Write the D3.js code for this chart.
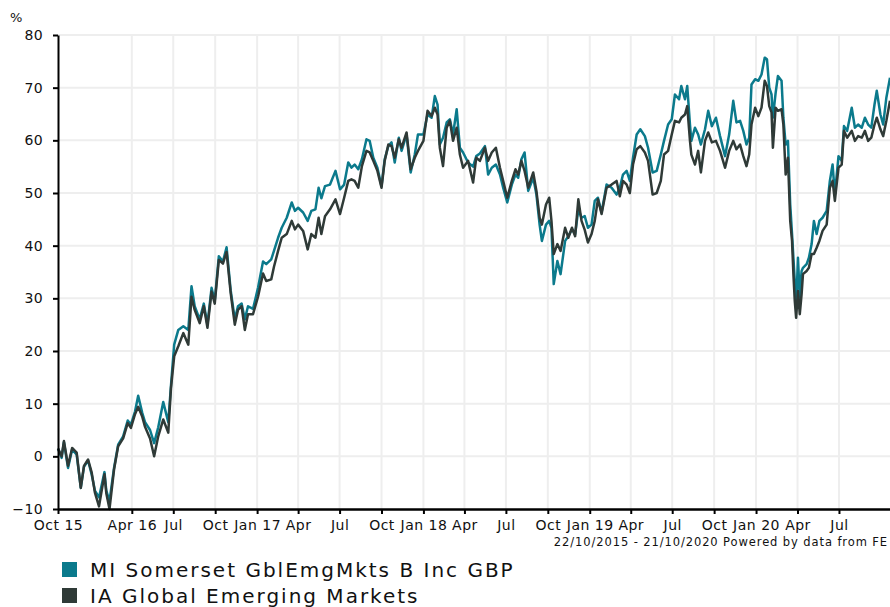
<!DOCTYPE html>
<html>
<head>
<meta charset="utf-8">
<script src="https://cdn.jsdelivr.net/npm/d3@7"></script>
<style>
  body { margin: 0; background: #fff; }
  svg { display: block; font-family: "DejaVu Sans", Verdana, sans-serif; }
</style>
</head>
<body>
<div id="chart"></div>
<script>
// 数据：日期与两条累计收益率（%）
const dates = [
  "2015-10-22","2015-10-30","2015-11-04","2015-11-13","2015-11-22","2015-12-02","2015-12-11","2015-12-18","2015-12-27",
  "2016-01-04","2016-01-11","2016-01-20","2016-02-01","2016-02-05","2016-02-12","2016-02-22","2016-03-02","2016-03-13",
  "2016-03-23","2016-03-30","2016-04-08","2016-04-15","2016-04-24","2016-04-30","2016-05-11","2016-05-20","2016-05-29",
  "2016-06-09","2016-06-20","2016-06-26","2016-07-03","2016-07-12","2016-07-23","2016-08-03","2016-08-10","2016-08-17",
  "2016-08-28","2016-09-06","2016-09-14","2016-09-23","2016-09-30","2016-10-09","2016-10-18","2016-10-26","2016-11-04",
  "2016-11-13","2016-11-20","2016-11-28","2016-12-05","2016-12-12","2016-12-23","2017-01-03","2017-01-14","2017-01-21",
  "2017-02-01","2017-02-07","2017-02-16","2017-02-24","2017-03-07","2017-03-18","2017-03-25","2017-04-01","2017-04-12",
  "2017-04-22","2017-04-30","2017-05-09","2017-05-16","2017-05-22","2017-05-30","2017-06-10","2017-06-22","2017-07-02",
  "2017-07-11","2017-07-20","2017-07-27","2017-08-03","2017-08-11","2017-08-19","2017-08-29","2017-09-05","2017-09-13",
  "2017-09-22","2017-10-01","2017-10-08","2017-10-16","2017-10-23","2017-10-30","2017-11-08","2017-11-14","2017-11-25",
  "2017-12-04","2017-12-13","2017-12-20","2018-01-01","2018-01-10","2018-01-19","2018-01-26","2018-02-01","2018-02-06",
  "2018-02-13","2018-02-21","2018-02-28","2018-03-07","2018-03-15","2018-03-22","2018-03-29","2018-04-09","2018-04-20",
  "2018-04-27","2018-05-05","2018-05-16","2018-05-23","2018-05-31","2018-06-09","2018-06-18","2018-06-25","2018-07-04",
  "2018-07-14","2018-07-22","2018-07-28","2018-08-04","2018-08-11","2018-08-19","2018-08-30","2018-09-06","2018-09-13",
  "2018-09-18","2018-09-27","2018-10-04","2018-10-09","2018-10-14","2018-10-22","2018-10-29","2018-11-08","2018-11-15",
  "2018-11-23","2018-11-30","2018-12-07","2018-12-14","2018-12-21","2018-12-28","2019-01-05","2019-01-12","2019-01-19",
  "2019-01-27","2019-02-07","2019-02-18","2019-03-01","2019-03-08","2019-03-15","2019-03-23","2019-03-30","2019-04-06",
  "2019-04-14","2019-04-22","2019-05-02","2019-05-09","2019-05-19","2019-05-28","2019-06-06","2019-06-13","2019-06-22",
  "2019-06-30","2019-07-07","2019-07-16","2019-07-21","2019-07-29","2019-08-03","2019-08-09","2019-08-12","2019-08-20",
  "2019-08-27","2019-09-02","2019-09-11","2019-09-18","2019-09-26","2019-10-05","2019-10-14","2019-10-25","2019-11-03",
  "2019-11-12","2019-11-19","2019-11-27","2019-12-04","2019-12-11","2019-12-17","2019-12-22","2019-12-30","2020-01-06",
  "2020-01-13","2020-01-20","2020-01-25","2020-01-30","2020-02-04","2020-02-07","2020-02-13","2020-02-18","2020-02-26",
  "2020-03-01","2020-03-06","2020-03-11","2020-03-16","2020-03-20","2020-03-23","2020-03-26","2020-03-29","2020-04-02",
  "2020-04-06","2020-04-10","2020-04-13","2020-04-21","2020-04-26","2020-05-02","2020-05-07","2020-05-13","2020-05-19",
  "2020-05-26","2020-06-04","2020-06-11","2020-06-17","2020-06-22","2020-06-30","2020-07-07","2020-07-12","2020-07-19",
  "2020-07-29","2020-08-05","2020-08-12","2020-08-20","2020-08-27","2020-09-03","2020-09-10","2020-09-17","2020-09-22",
  "2020-09-30","2020-10-06","2020-10-13","2020-10-21"
];

// MI Somerset GblEmgMkts B Inc GBP
const fundValues = [
  1.5,-0.3,2.7,-2.2,1.3,0.3,-6,-2,-0.8,
  -3.5,-6.5,-7.8,-3,-6.5,-8.5,-2.2,2.2,3.8,
  6.8,6,8.5,11.5,8.2,6.5,5,2.5,5.5,
  10.3,6.5,13.5,21.2,24,24.7,24,32.3,28.5,
  26,29,25,32,29.5,38,37,39.7,31.5,
  26,28.5,29,26,28.5,28,32,37,36.5,
  37.4,39,41.5,43.4,45.3,48.2,46.6,47.2,46.3,
  44.7,46.6,46.9,51,49,51.3,51.6,54.2,50.7,
  51.6,55.8,54.8,55.4,54.5,56.4,60.2,59.9,56.7,
  54.8,51.3,56.4,58.9,59.6,55.8,60.5,58,61.1,
  53.9,57.3,61.1,61.1,64.9,64.3,68.4,66.8,59.2,
  60.5,63.4,64,61.1,65.9,58.6,57.7,55.8,55,
  57,57.5,58.9,53.5,54.8,55.4,53.5,51,48.2,
  51.6,53.5,52.9,56.4,57.7,50.4,52.9,49.7,44,
  40.9,44,44.7,43.4,32.7,37.1,34.6,40.9,41.8,
  43.1,42.2,46.9,45.3,45.6,43.4,44,48.5,49.1,
  46.3,51.6,51,49.7,51,53.5,54.2,52.3,56.7,
  61.1,62.1,60.8,58.6,53.9,54.2,57.3,59.9,63,
  64,68.7,67.8,70.3,67.8,70.3,63,59.9,62.4,
  61.1,59.2,62.1,65.6,62.7,64.3,60.8,57,61.1,
  67.5,63.4,63.7,61.8,59.2,60.5,70.6,71.6,71.3,
  72.5,75.7,75.4,70,68.7,64.3,69,72.2,71.3,
  64.3,59.2,59.9,47.8,42.2,37.7,33.3,28.2,37.7,
  30.1,35.2,35.8,36.5,37.7,40.3,44.7,42.2,44.7,
  45.3,46.6,52.3,55.4,49.7,57,56.1,62.7,61.8,
  66.2,62.4,63,62.4,64.3,63,62.4,66.8,69.4,
  64.9,63,68.1,71.9
];

// IA Global Emerging Markets
const sectorValues = [
  1.5,0,2.9,-1.8,1.6,0.7,-6,-1.8,-0.6,
  -3.1,-6.9,-9.5,-3.4,-7,-10,-2.5,1.9,3.4,
  6.3,5.4,8,9.4,7.5,5.6,3.4,0,3.8,
  7,4.5,13,19,20.9,23.4,21.2,30.3,27.8,
  25.3,28.5,24.4,31.3,29,37.3,36.6,38.8,31,
  25,27.8,28.5,24,27,27,30.3,34.7,33.3,
  33.6,36,39,41.5,42.2,44.7,43.1,44,42.8,
  39.3,42.2,41.5,45.3,42.2,45.6,46.9,48.8,46,
  49.1,52.3,52.6,52.3,51,55.1,58,57.7,56.1,
  54.2,51,56.1,59.2,58.9,56.7,60.2,58.6,61.5,
  54.5,56.7,58,59.9,65.6,64.6,66.2,64.9,58.6,
  55.1,62.4,63.7,59.9,62.4,57.3,54.8,56.1,52,
  56.7,56.1,58.6,56.1,57.7,58.6,54.8,52.3,49.1,
  52.3,54.5,53.5,56.1,54.2,51,53.9,50.4,45.3,
  44,47.8,49.1,44.7,38.4,40.3,39,43.4,41.5,
  43.4,41.8,48.8,44.7,43,40.6,42.2,44.7,48.8,
  46,51,51.6,52.3,49.4,52.3,51.6,50,55.4,
  58.3,58.9,57.7,56.1,49.7,50,52.3,57.3,58,
  61.1,63.7,63.4,64.3,64.9,66.5,59.9,57.3,55.4,
  58,53.9,59.9,61.5,59.6,59.9,58,54.8,58,
  59.9,58.3,59.2,57,55.1,57.3,63,66.2,64.6,
  66.2,71.3,70.3,66.5,65.3,58.6,66.2,65.6,65.9,
  63,53.5,56.7,44.7,40.9,34.6,29.5,26.3,31.4,
  27,30.8,34.6,35.2,35.8,38.4,38.4,39.6,40.9,
  42.8,44,51,52.3,48.5,54.8,55.4,61.8,60.5,
  61.8,59.9,60.8,60.5,61.8,59.9,60.5,63,64.3,
  62.1,60.8,63.7,67.5
];

// X 轴刻度（季度）与标签
const tickDates = [
  "2015-10-22","2016-04-01","2016-07-01","2016-10-01","2017-01-01","2017-04-01","2017-07-01","2017-10-01",
  "2018-01-01","2018-04-01","2018-07-01","2018-10-01","2019-01-01","2019-04-01","2019-07-01","2019-10-01",
  "2020-01-01","2020-04-01","2020-07-01"
];
const tickLabels = [
  "Oct 15","Apr 16","Jul","Oct","Jan 17","Apr","Jul","Oct",
  "Jan 18","Apr","Jul","Oct","Jan 19","Apr","Jul","Oct",
  "Jan 20","Apr","Jul"
];
const yTicks = [-10, 0, 10, 20, 30, 40, 50, 60, 70, 80];

const seriesNames = ["MI Somerset GblEmgMkts B Inc GBP", "IA Global Emerging Markets"];
const seriesColors = ["#0b7a8c", "#2f3a37"];
const footerText = "22/10/2015 - 21/10/2020 Powered by data from FE";

const width = 890, height = 607;
const margin = { left: 58, right: 0, top: 35, bottom: 98 };

const parse = d3.timeParse("%Y-%m-%d");
const dateObjs = dates.map(parse);

const svg = d3.select("#chart").append("svg")
    .attr("width", width)
    .attr("height", height);

const x = d3.scaleTime()
    .domain([parse("2015-10-22"), parse("2020-10-21")])
    .range([margin.left, width - margin.right]);

const y = d3.scaleLinear()
    .domain([-10, 80])
    .range([height - margin.bottom, margin.top]);

// 网格线
const tickObjs = tickDates.map(parse);
svg.append("g")
    .selectAll("line.v")
    .data(tickObjs.slice(1))
    .enter().append("line")
    .attr("x1", d => x(d)).attr("x2", d => x(d))
    .attr("y1", y(80)).attr("y2", y(-10))
    .attr("stroke", "#eeeeee")
    .attr("stroke-width", 2);

svg.append("g")
    .selectAll("line.h")
    .data(yTicks.filter(d => d > -10))
    .enter().append("line")
    .attr("x1", x.range()[0]).attr("x2", x.range()[1])
    .attr("y1", d => y(d)).attr("y2", d => y(d))
    .attr("stroke", "#eeeeee")
    .attr("stroke-width", 2);

// 折线
const seriesData = [fundValues, sectorValues];
const line = d3.line()
    .x((d, i) => x(dateObjs[i]))
    .y(d => y(d));

seriesData.forEach((vals, k) => {
  svg.append("path")
      .datum(vals)
      .attr("fill", "none")
      .attr("stroke", seriesColors[k])
      .attr("stroke-width", 2.5)
      .attr("stroke-linejoin", "round")
      .attr("d", line);
});

// Y 轴
const yAxis = svg.append("g")
    .attr("transform", `translate(${margin.left},0)`)
    .call(d3.axisLeft(y).tickValues(yTicks).tickSize(5).tickPadding(10).tickSizeOuter(0));
yAxis.select(".domain").attr("stroke", "#000").attr("stroke-width", 2);
yAxis.selectAll(".tick line").attr("stroke", "#000").attr("stroke-width", 2);
yAxis.selectAll(".tick text")
    .style("font-family", "DejaVu Sans, Verdana, sans-serif")
    .style("font-size", "14px")
    .style("letter-spacing", "0.4px")
    .attr("fill", "#111");

// X 轴
const xAxis = svg.append("g")
    .attr("transform", `translate(0,${y(-10)})`)
    .call(d3.axisBottom(x)
        .tickValues(tickObjs)
        .tickFormat((d, i) => tickLabels[i])
        .tickSize(5).tickPadding(6).tickSizeOuter(0));
xAxis.select(".domain").attr("stroke", "#000").attr("stroke-width", 2.5);
xAxis.selectAll(".tick line").attr("stroke", "#000").attr("stroke-width", 2);
xAxis.selectAll(".tick text")
    .style("font-family", "DejaVu Sans, Verdana, sans-serif")
    .style("font-size", "14px")
    .style("letter-spacing", "0.5px")
    .attr("fill", "#111");

// 单位
svg.append("text")
    .attr("x", 10).attr("y", 22)
    .style("font-size", "13px")
    .attr("fill", "#111")
    .text("%");

// 底部说明
svg.append("text")
    .attr("x", 888).attr("y", 546)
    .attr("text-anchor", "end")
    .style("font-size", "11.5px")
    .style("letter-spacing", "0.9px")
    .attr("fill", "#111")
    .text(footerText);

// 图例
const legend = svg.append("g").attr("transform", "translate(62,562)");
seriesNames.forEach((name, k) => {
  const g = legend.append("g").attr("transform", `translate(0,${k * 26})`);
  g.append("rect")
      .attr("width", 15).attr("height", 15)
      .attr("fill", seriesColors[k]);
  g.append("text")
      .attr("x", 28).attr("y", 15)
      .style("font-size", "20px")
      .style("letter-spacing", "2px")
      .attr("fill", "#111")
      .text(name);
});
</script>
</body>
</html>
